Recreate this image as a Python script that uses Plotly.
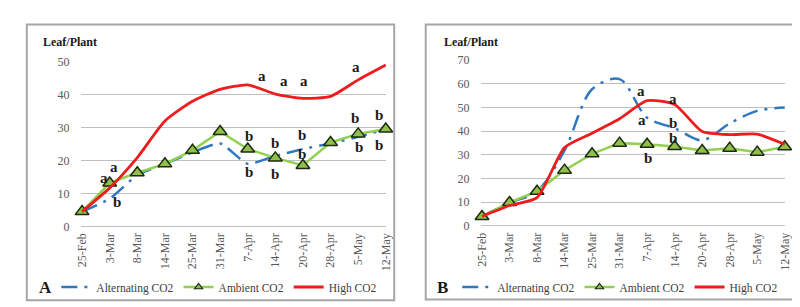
import plotly.graph_objects as go

dates = ["25-Feb", "3-Mar", "8-Mar", "14-Mar", "25-Mar", "31-Mar", "7-Apr",
         "14-Apr", "20-Apr", "28-Apr", "5-May", "12-May"]

# Panel A
a_alternating = [4.5, 8.4, 15.6, 19.0, 22.5, 25.2, 19.0, 21.4, 23.5, 25.2, 27.2, 29.6]
a_ambient = [4.5, 13.2, 16.3, 19.0, 23.1, 28.8, 23.5, 20.8, 18.5, 25.5, 28.1, 29.6]
a_high = [4.5, 11.7, 20.9, 32.0, 38.0, 41.6, 43.0, 40.2, 38.9, 39.5, 44.5, 49.0]

# Panel B
b_alternating = [4.0, 9.7, 14.6, 31.8, 57.6, 61.9, 45.6, 41.2, 36.1, 43.2, 48.5, 49.9]
b_ambient = [4.0, 9.9, 14.6, 23.5, 30.4, 34.9, 34.4, 33.5, 31.8, 32.7, 31.1, 33.4]
b_high = [4.0, 8.6, 11.9, 33.1, 39.1, 45.2, 52.8, 51.2, 39.8, 38.5, 38.7, 34.4]

# significance letters: (category position, y value, letter)
a_letters_x = [0.8, 1.14, 1.27, 6.5, 7.3, 8.04, 9.92, 10.75, 6.03, 6.06, 7.0, 7.0, 7.98, 7.98, 9.88, 10.02, 10.75, 10.75]
a_letters_y = [14.6, 18.0, 7.4, 45.8, 44.2, 44.2, 48.4, 51.0, 27.6, 16.6, 25.4, 15.9, 27.8, 21.9, 32.9, 24.1, 33.7, 24.8]
a_letters_t = ["a", "a", "b", "a", "a", "a", "a", "a", "b", "b", "b", "b", "b", "b", "b", "b", "b", "b"]

b_letters_x = [5.78, 5.83, 6.95, 6.95, 6.95, 6.03]
b_letters_y = [56.8, 44.5, 53.6, 43.2, 37.1, 28.8]
b_letters_t = ["a", "a", "a", "b", "b", "b"]

series_names = ["Alternating CO2", "Ambient CO2", "High CO2"]

BLUE = "#2e78c2"
GREEN = "#92d050"
RED = "#ee1c1c"
SERIF = "Liberation Serif"
DASH = "16px,7px,3px,7px"

W, H = 800, 307
def px(x):
    return x / W
def py(y):
    return 1 - y / H

fig = go.Figure()

xs = list(range(len(dates)))

def styles(marker_size):
    return [
        dict(mode="lines", line=dict(color=BLUE, width=2.5, dash=DASH)),
        dict(mode="lines+markers", line=dict(color=GREEN, width=2.5),
             marker=dict(symbol="triangle-up", size=marker_size, color="#8fc14a",
                         line=dict(color="#1e2a10", width=1.2 if marker_size < 10 else 1.5))),
        dict(mode="lines", line=dict(color=RED, width=2.8)),
    ]

def add_panel(alt, amb, high, xa, ya, leg, alt_smooth):
    st = styles(12)
    for i, vals in enumerate([alt, amb, high]):
        s = st[i]
        line = dict(s["line"])
        if i == 0:
            line.update(shape="spline", smoothing=alt_smooth)
        elif i == 2:
            line.update(shape="spline", smoothing=0.6)
        fig.add_trace(go.Scatter(x=xs, y=vals, mode=s["mode"], name=series_names[i],
                                 line=line, marker=s.get("marker"),
                                 xaxis=xa, yaxis=ya, showlegend=False, cliponaxis=False))
    # legend entries (small symbols like the original)
    st = styles(7)
    for i in range(3):
        s = st[i]
        fig.add_trace(go.Scatter(x=[None], y=[None], mode=s["mode"], name=series_names[i],
                                 line=s["line"], marker=s.get("marker"),
                                 xaxis=xa, yaxis=ya, legend=leg, showlegend=True))

add_panel(a_alternating, a_ambient, a_high, "x", "y", "legend", 0.5)
add_panel(b_alternating, b_ambient, b_high, "x2", "y2", "legend2", 0.9)

tickfont = dict(family=SERIF, size=12, color="#595959")

xcommon = dict(tickmode="array", tickvals=xs, ticktext=dates, tickangle=-90,
               tickfont=tickfont, showgrid=False, zeroline=False, showline=False,
               ticks="outside", ticklen=1, tickcolor="rgba(0,0,0,0)", range=[-0.04, 11.02], fixedrange=True)
ycommon = dict(showgrid=True, gridcolor="#bfbfbf", gridwidth=1, zeroline=True,
               zerolinecolor="#bfbfbf", zerolinewidth=1, showline=False,
               ticks="outside", ticklen=8, tickcolor="rgba(0,0,0,0)",
               tickfont=tickfont, dtick=10, fixedrange=True)

legend_common = dict(orientation="h", xanchor="left", yanchor="middle",
                     font=dict(family=SERIF, size=11.5, color="#404040"),
                     bgcolor="rgba(0,0,0,0)", tracegroupgap=0)

fig.update_layout(
    width=W, height=H,
    margin=dict(l=0, r=0, t=0, b=0),
    paper_bgcolor="white", plot_bgcolor="white",
    xaxis=dict(domain=[px(68), px(378)], anchor="y", **xcommon),
    yaxis=dict(domain=[py(221.5), py(49)], anchor="x", range=[0, 50], **ycommon),
    xaxis2=dict(domain=[px(474), px(783)], anchor="y2", **xcommon),
    yaxis2=dict(domain=[py(221), py(47)], anchor="x2", range=[0, 70], **ycommon),
    legend=dict(x=px(43), y=py(285), **legend_common),
    legend2=dict(x=px(450), y=py(285), **legend_common),
    showlegend=True,
)

# panel borders
for x0, x1, y0, y1 in [(13, 386, 10, 299), (418, 793, 10, 298)]:
    fig.add_shape(type="rect", xref="paper", yref="paper",
                  x0=px(x0), x1=px(x1), y0=py(y1), y1=py(y0),
                  line=dict(color="#a6a6a6", width=2), fillcolor="rgba(0,0,0,0)")

# y-axis titles and panel labels
for xpos in (27, 435):
    fig.add_annotation(text="<b>Leaf/Plant</b>", xref="paper", yref="paper", x=px(xpos), y=py(28),
                       xanchor="left", yanchor="middle", showarrow=False,
                       font=dict(family=SERIF, size=12, color="#1a1a1a"))
for lab, xpos in (("A", 32), ("B", 435)):
    fig.add_annotation(text="<b>%s</b>" % lab, xref="paper", yref="paper", x=px(xpos), y=py(285),
                       xanchor="center", yanchor="middle", showarrow=False,
                       font=dict(family=SERIF, size=17, color="#1a1a1a"))

for xv, yv, t in zip(a_letters_x, a_letters_y, a_letters_t):
    fig.add_annotation(text="<b>%s</b>" % t, x=xv, y=yv, xref="x", yref="y", showarrow=False,
                       font=dict(family=SERIF, size=15, color="#1a1a1a"))
for xv, yv, t in zip(b_letters_x, b_letters_y, b_letters_t):
    fig.add_annotation(text="<b>%s</b>" % t, x=xv, y=yv, xref="x2", yref="y2", showarrow=False,
                       font=dict(family=SERIF, size=15, color="#1a1a1a"))

fig.write_html("out.html")
